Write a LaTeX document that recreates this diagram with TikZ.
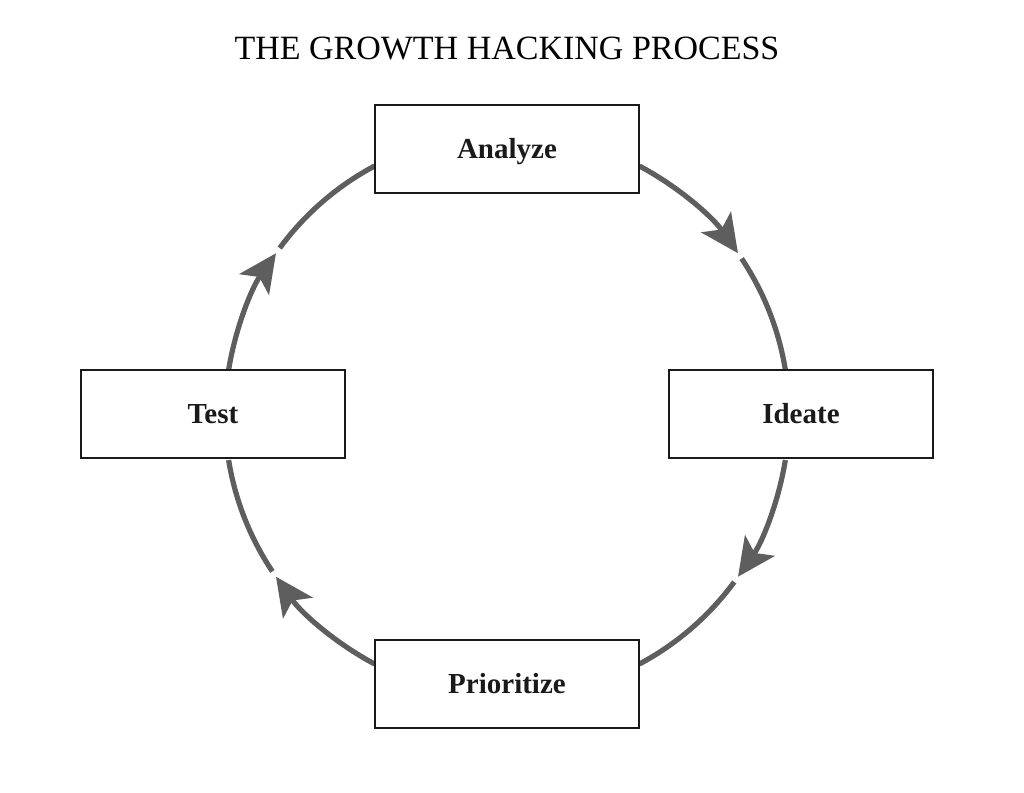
\documentclass[tikz,border=0pt]{standalone}
\usepackage{fontspec}
\setmainfont{Liberation Serif}
\usetikzlibrary{arrows.meta,calc,backgrounds}
\definecolor{ink}{HTML}{1A1A1A}
\definecolor{loopgray}{HTML}{5E5E5E}

\begin{document}
\begin{tikzpicture}[
  x=0.5pt, y=0.5pt,
  stage/.style={draw=ink, line width=1pt, fill=white, minimum width=132pt,
    minimum height=44pt, inner sep=0pt, text=ink,
    font=\fontsize{14.5}{16}\selectfont\bfseries, text height=9.6pt, text depth=0pt},
  cyclearc/.style={draw=loopgray, line width=2.6pt},
  cyclearrow/.style={cyclearc, -{Stealth[length=19pt,width=18pt,inset=4.5pt]}}
]
  \useasboundingbox (-507,-378) rectangle (517,415);

  \node[font=\fontsize{17}{20}\selectfont, text height=11.2pt, text depth=0pt, inner sep=0pt] (title) at (0,366.5) {THE GROWTH HACKING PROCESS};

  \node[stage] (analyze) at (0,266) {Analyze};
  \node[stage] (ideate) at (294,1) {Ideate};
  \node[stage] (prioritize) at (0,-269) {Prioritize};
  \node[stage] (test) at (-294,1) {Test};
  \coordinate (hub) at (0,0);

  % clockwise arcs, each broken just after its arrowhead
  \begin{scope}[on background layer]
    \foreach \from/\tip/\to in {62/35/9.2, -9.2/-35/-62, -118/-145/-170.8, 170.8/145/118}{
      \draw[cyclearrow] ($(hub)+(\from:282)$) arc[start angle=\from, end angle=\tip, radius=282];
      \draw[cyclearc] ($(hub)+({\tip-1.3}:282)$) arc[start angle=\tip-1.3, end angle=\to, radius=282];
    }
  \end{scope}
\end{tikzpicture}
\end{document}
